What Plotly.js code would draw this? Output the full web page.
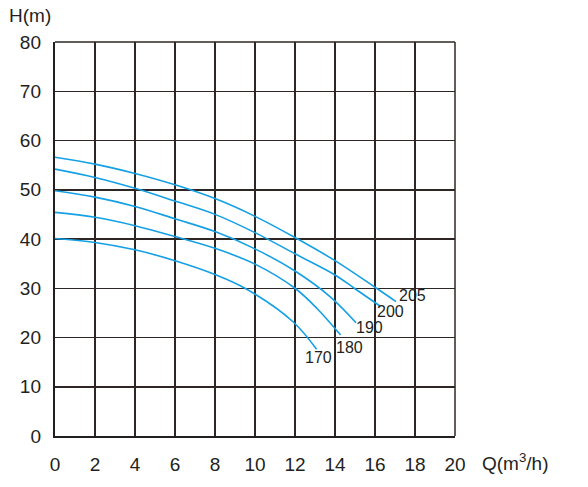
<!DOCTYPE html>
<html>
<head>
<meta charset="utf-8">
<script src="https://cdn.plot.ly/plotly-3.0.1.min.js"></script>
<style>html,body{margin:0;padding:0;background:#fff;}#chart{width:588px;height:487px;}</style>
</head>
<body>
<div id="chart"></div>
<script>
var seriesNames = ['205', '200', '190', '180', '170'];
var q205 = [0, 2, 4, 6, 8, 10, 12, 14, 16, 17.05];
var h205 = [56.6, 55.2, 53.3, 51.0, 48.2, 44.6, 40.3, 35.6, 30.2, 27.3];
var q200 = [0, 2, 4, 6, 8, 10, 12, 14, 15, 16.25];
var h200 = [54.2, 52.5, 50.3, 47.7, 45.0, 41.3, 37.0, 32.7, 29.9, 26.4];
var q190 = [0, 2, 4, 6, 8, 10, 12, 13.75, 15.05];
var h190 = [49.8, 48.5, 46.6, 44.1, 41.5, 38.0, 33.5, 28.3, 23.0];
var q180 = [0, 2, 4, 6, 8, 10, 12, 13.1, 14.28];
var h180 = [45.4, 44.4, 42.7, 40.5, 38.1, 34.9, 30.0, 25.9, 20.5];
var q170 = [0, 2, 4, 6, 8, 9.5, 11.9, 13.08];
var h170 = [40.1, 39.3, 37.8, 35.6, 32.8, 30.0, 23.2, 17.6];
var labelQ = [17.85, 16.75, 15.7, 14.7, 13.15];
var labelH = [28.6, 25.2, 22.0, 18.0, 15.9];
var xTicks = [0, 2, 4, 6, 8, 10, 12, 14, 16, 18, 20];
var yTicks = [0, 10, 20, 30, 40, 50, 60, 70, 80];

var qs = [q205, q200, q190, q180, q170];
var hs = [h205, h200, h190, h180, h170];
var lineColor = '#14a0e4';
var textColor = '#231f20';
var gridColor = '#2e2624';
var fam = 'Liberation Sans, Arial, sans-serif';

var traces = seriesNames.map(function (n, i) {
  return {
    x: qs[i], y: hs[i], type: 'scatter', mode: 'lines', name: n,
    line: {color: lineColor, width: 1.6, shape: 'spline', smoothing: 1},
    hoverinfo: 'skip'
  };
});

var annotations = seriesNames.map(function (n, i) {
  return {
    x: labelQ[i], y: labelH[i], xref: 'x', yref: 'y', text: n, showarrow: false,
    font: {family: fam, size: 16, color: textColor}
  };
});
annotations.push({
  xref: 'paper', yref: 'paper', x: -0.12, y: 1.035, xanchor: 'left', yanchor: 'bottom',
  text: 'H(m)', showarrow: false,
  font: {family: fam, size: 19, color: textColor}
});
annotations.push({
  xref: 'paper', yref: 'paper', x: 1.062, y: -0.067, xanchor: 'left', yanchor: 'middle',
  text: 'Q(m<sup>3</sup>/h)', showarrow: false,
  font: {family: fam, size: 19, color: textColor}
});

var layout = {
  width: 588, height: 487,
  margin: {l: 55, r: 133, t: 42, b: 51, pad: 0},
  paper_bgcolor: '#fff', plot_bgcolor: '#fff',
  showlegend: false,
  font: {family: fam, size: 19, color: textColor},
  xaxis: {
    range: [0, 20], tickvals: xTicks, ticktext: xTicks.map(String),
    showgrid: true, gridcolor: gridColor, gridwidth: 1.5,
    zeroline: false, showline: true, linecolor: textColor, linewidth: 2.2, mirror: false,
    ticks: 'outside', ticklen: 10, tickcolor: 'rgba(0,0,0,0)',
    tickfont: {family: fam, size: 19, color: textColor}, fixedrange: true
  },
  yaxis: {
    range: [0, 80], tickvals: yTicks, ticktext: yTicks.map(String),
    showgrid: true, gridcolor: gridColor, gridwidth: 1.5,
    zeroline: false, showline: true, linecolor: textColor, linewidth: 2.2, mirror: false,
    ticks: 'outside', ticklen: 8, tickcolor: 'rgba(0,0,0,0)',
    tickfont: {family: fam, size: 19, color: textColor}, fixedrange: true
  },
  shapes: [
    {type: 'line', xref: 'x domain', yref: 'y domain', x0: 0, x1: 1, y0: 1, y1: 1,
     line: {color: gridColor, width: 1.5}},
    {type: 'line', xref: 'x domain', yref: 'y domain', x0: 1, x1: 1, y0: 0, y1: 1,
     line: {color: gridColor, width: 1.5}}
  ],
  annotations: annotations
};

Plotly.newPlot('chart', traces, layout, {staticPlot: true, displayModeBar: false});
</script>
</body>
</html>
